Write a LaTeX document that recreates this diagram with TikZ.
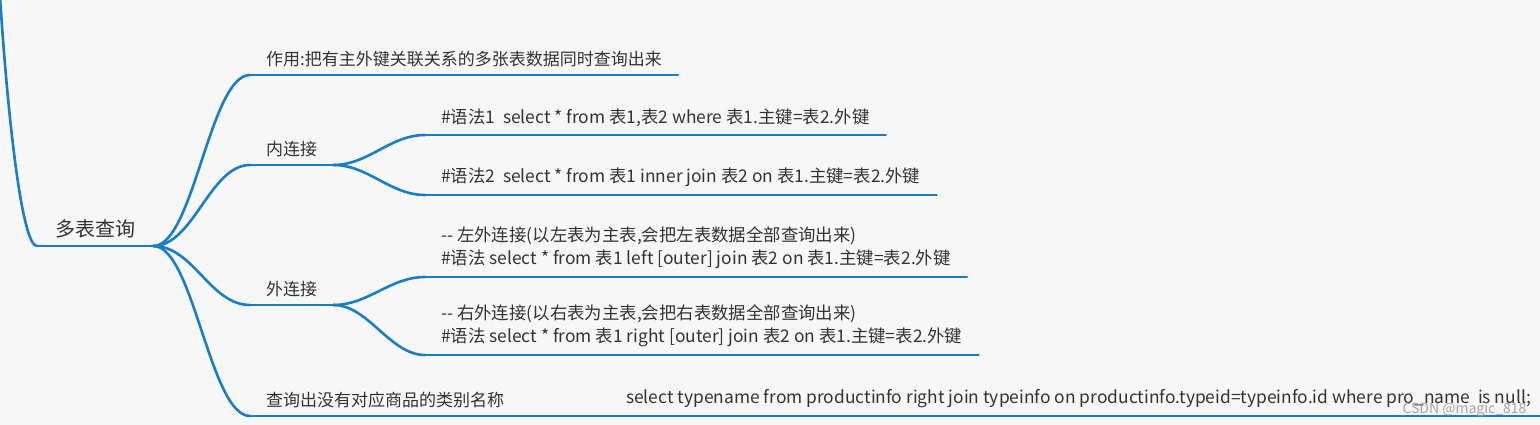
\documentclass[tikz,border=0pt]{standalone}
\usepackage{fontspec}
\newfontfamily\cjk{Noto Sans CJK SC}
\definecolor{mapblue}{RGB}{27,125,196}
\definecolor{mapbg}{RGB}{247,247,247}
\definecolor{maptext}{RGB}{51,51,51}

\begin{document}
\begin{tikzpicture}[x=1pt,y=-1pt,
    topic/.style={anchor=south west,inner xsep=16pt,inner ysep=8pt,text=maptext,
      font=\cjk\fontsize{17}{23}\selectfont,align=left},
    code/.style={topic,font=\cjk\fontsize{17.4}{23}\selectfont},
    link/.style={draw=mapblue,line width=2.6pt,line cap=round}]
  \fill[mapbg] (0,0) rectangle (1540,425);
  \useasboundingbox (0,0) rectangle (1540,425);
  % root and first level
  \node[topic,inner xsep=18pt,font=\cjk\fontsize{20}{24}\selectfont] (root) at (37,246) {多表查询};
  \node[topic] (goal) at (250,75) {作用:把有主外键关联关系的多张表数据同时查询出来};
  \node[topic] (inner) at (250,165) {内连接};
  \node[topic] (outer) at (250,305) {外连接};
  \node[topic] (query) at (250,416) {查询出没有对应商品的类别名称};
  % second level
  \node[code] (syn1) at (425,135) {\#语法1\ \ select * from 表1,表2 where 表1.主键=表2.外键};
  \node[code] (syn2) at (425,195) {\#语法2\ \ select * from 表1 inner join 表2 on 表1.主键=表2.外键};
  \node[code] (left) at (425,277) {-- 左外连接(以左表为主表,会把左表数据全部查询出来)\\
    \#语法 select * from 表1 left [outer] join 表2 on 表1.主键=表2.外键};
  \node[code] (right) at (425,355) {-- 右外连接(以右表为主表,会把右表数据全部查询出来)\\
    \#语法 select * from 表1 right [outer] join 表2 on 表1.主键=表2.外键};
  \node[code] (sql) at (610,416) {select typename from productinfo right join typeinfo on productinfo.typeid=typeinfo.id where pro\_name\ \ is null;};
  \coordinate (top) at (0,-3);

  \foreach \n in {root,goal,inner,outer,query,syn1,syn2,left,right,sql}
    \draw[link] (\n.south west) -- (\n.south east);
  \draw[link] (root.south west) .. controls (22,246) and (8,120) .. (top);
  \foreach \n in {goal,inner,outer,query}
    \draw[link] (root.south east) .. controls +(40,0) and +(-40,0) .. (\n.south west);
  \foreach \n in {syn1,syn2}
    \draw[link] (inner.south east) .. controls +(35,0) and +(-35,0) .. (\n.south west);
  \foreach \n in {left,right}
    \draw[link] (outer.south east) .. controls +(35,0) and +(-35,0) .. (\n.south west);
  \draw[link] (query.south east) -- (sql.south west);

  \node[text=black!35,font=\cjk\fontsize{14}{16}\selectfont,anchor=base east] (mark) at (1530,413) {CSDN @magic\_818};
\end{tikzpicture}
\end{document}
